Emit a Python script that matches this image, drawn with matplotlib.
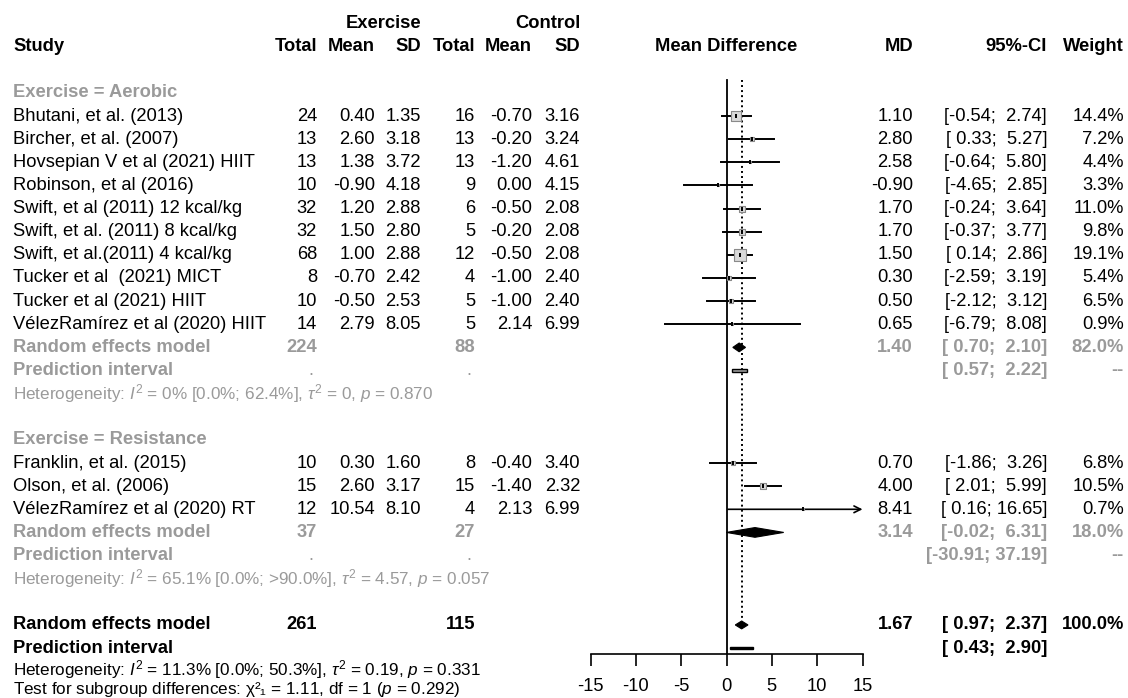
import matplotlib.pyplot as plt
from matplotlib.patches import Polygon, Rectangle

plt.rcParams['font.family'] = ['Liberation Sans', 'DejaVu Sans']
plt.rcParams['axes.unicode_minus'] = False
plt.rcParams['mathtext.fontset'] = 'custom'
plt.rcParams['mathtext.rm'] = 'Liberation Sans'
plt.rcParams['mathtext.it'] = 'Liberation Sans:italic'
plt.rcParams['mathtext.bf'] = 'Liberation Sans:bold'

# ---- data ----
aer_study = ['Bhutani, et al. (2013)', 'Bircher, et al. (2007)', 'Hovsepian V et al (2021) HIIT',
             'Robinson, et al (2016)', 'Swift, et al (2011) 12 kcal/kg', 'Swift, et al. (2011) 8 kcal/kg',
             'Swift, et al.(2011) 4 kcal/kg', 'Tucker et al  (2021) MICT', 'Tucker et al (2021) HIIT',
             'VélezRamírez et al (2020) HIIT']
aer_n_e = [24, 13, 13, 10, 32, 32, 68, 8, 10, 14]
aer_mean_e = [0.40, 2.60, 1.38, -0.90, 1.20, 1.50, 1.00, -0.70, -0.50, 2.79]
aer_sd_e = [1.35, 3.18, 3.72, 4.18, 2.88, 2.80, 2.88, 2.42, 2.53, 8.05]
aer_n_c = [16, 13, 13, 9, 6, 5, 12, 4, 5, 5]
aer_mean_c = [-0.70, -0.20, -1.20, 0.00, -0.50, -0.20, -0.50, -1.00, -1.00, 2.14]
aer_sd_c = [3.16, 3.24, 4.61, 4.15, 2.08, 2.08, 2.08, 2.40, 2.40, 6.99]
aer_md = [1.10, 2.80, 2.58, -0.90, 1.70, 1.70, 1.50, 0.30, 0.50, 0.65]
aer_lo = [-0.54, 0.33, -0.64, -4.65, -0.24, -0.37, 0.14, -2.59, -2.12, -6.79]
aer_hi = [2.74, 5.27, 5.80, 2.85, 3.64, 3.77, 2.86, 3.19, 3.12, 8.08]
aer_w = [14.4, 7.2, 4.4, 3.3, 11.0, 9.8, 19.1, 5.4, 6.5, 0.9]
aer_tot = [224, 88]
aer_re = [1.40, 0.70, 2.10, 82.0]
aer_pi = [0.57, 2.22]
aer_het = r'Heterogeneity: $I^2$ = 0% [0.0%; 62.4%], $\tau^2$ = 0, $p$ = 0.870'

res_study = ['Franklin, et al. (2015)', 'Olson, et al. (2006)', 'VélezRamírez et al (2020) RT']
res_n_e = [10, 15, 12]
res_mean_e = [0.30, 2.60, 10.54]
res_sd_e = [1.60, 3.17, 8.10]
res_n_c = [8, 15, 4]
res_mean_c = [-0.40, -1.40, 2.13]
res_sd_c = [3.40, 2.32, 6.99]
res_md = [0.70, 4.00, 8.41]
res_lo = [-1.86, 2.01, 0.16]
res_hi = [3.26, 5.99, 16.65]
res_w = [6.8, 10.5, 0.7]
res_tot = [37, 27]
res_re = [3.14, -0.02, 6.31, 18.0]
res_pi = [-30.91, 37.19]
res_het = r'Heterogeneity: $I^2$ = 65.1% [0.0%; >90.0%], $\tau^2$ = 4.57, $p$ = 0.057'

all_tot = [261, 115]
all_re = [1.67, 0.97, 2.37, 100.0]
all_pi = [0.43, 2.90]
all_het = r'Heterogeneity: $I^2$ = 11.3% [0.0%; 50.3%], $\tau^2$ = 0.19, $p$ = 0.331'
sub_test = 'Test for subgroup differences: χ²₁ = 1.11, df = 1 ($p$ = 0.292)'

xticks = [-15, -10, -5, 0, 5, 10, 15]

# ---- layout (pixels) ----
W, H = 1128, 698
Y0, DY = 46.7, 23.13          # pixel y of row 0, row spacing
FS = 13.2
FS_HET = 12.3
GREY = '#9a9a9a'
col_tot_e, col_mean_e, col_sd_e = 317, 375, 421
col_tot_c, col_mean_c, col_sd_c = 475, 532, 580
col_md, col_ci, col_w = 913, 1047, 1124
fx0, fx1, fy1 = 590.5, 862.5, 654


def ci_text(lo, hi):
    return '[' + f'{lo:5.2f}' + '; ' + f'{hi:5.2f}' + ']'


fig = plt.figure(figsize=(W / 100, H / 100), dpi=100)
fig.patch.set_facecolor('white')

ax_t = fig.add_axes([0, 0, 1, 1])
ax_t.set_xlim(0, W)
ax_t.set_ylim((H - Y0) / DY, -Y0 / DY)
ax_t.axis('off')

ax_f = fig.add_axes([fx0 / W, 1 - fy1 / H, (fx1 - fx0) / W, fy1 / H])
ax_f.set_xlim(-15, 15)
ax_f.set_ylim((fy1 - Y0) / DY, -Y0 / DY)
ax_f.patch.set_alpha(0)
for s in ['top', 'left', 'right']:
    ax_f.spines[s].set_visible(False)
ax_f.spines['bottom'].set_linewidth(1.2)
ax_f.set_xticks(xticks)
ax_f.set_xticklabels([str(t) for t in xticks])
ax_f.set_yticks([])
ax_f.tick_params(axis='x', direction='out', length=8.6, width=1.2, labelsize=FS, pad=9)


def txt(x, r, s, ha='right', bold=False, color='black', size=FS, va='center'):
    ax_t.text(x, r, s, ha=ha, va=va, fontsize=size,
              fontweight='bold' if bold else 'normal', color=color)


# headers
txt(col_sd_e, -1, 'Exercise', bold=True)
txt(col_sd_c, -1, 'Control', bold=True)
txt(13, 0, 'Study', ha='left', bold=True)
for x, s in [(col_tot_e, 'Total'), (col_mean_e, 'Mean'), (col_sd_e, 'SD'),
             (col_tot_c, 'Total'), (col_mean_c, 'Mean'), (col_sd_c, 'SD'),
             (col_md, 'MD'), (col_ci, '95%-CI'), (col_w, 'Weight')]:
    txt(x, 0, s, bold=True)
txt((fx0 + fx1) / 2, 0, 'Mean Difference', ha='center', bold=True)

# reference lines
ax_f.plot([0, 0], [1.44, (fy1 - Y0) / DY], color='black', lw=1.3)
ax_f.plot([all_re[0]] * 2, [1.44, 24.85], color='black', lw=1.4, linestyle=(0, (1, 1.6)))

wmax = max(aer_w + res_w)


def study_rows(first, names, ne, me, se, nc, mc, sc, md, lo, hi, w):
    for i in range(len(names)):
        r = first + i
        txt(13, r, names[i], ha='left')
        txt(col_tot_e, r, str(ne[i]))
        txt(col_mean_e, r, f'{me[i]:.2f}')
        txt(col_sd_e, r, f'{se[i]:.2f}')
        txt(col_tot_c, r, str(nc[i]))
        txt(col_mean_c, r, f'{mc[i]:.2f}')
        txt(col_sd_c, r, f'{sc[i]:.2f}')
        txt(col_md, r, f'{md[i]:.2f}')
        txt(col_ci, r, ci_text(lo[i], hi[i]))
        txt(col_w, r, f'{w[i]:.1f}%')
        # forest marks
        if hi[i] > 15:
            ax_f.annotate('', xy=(15, r), xytext=(lo[i], r),
                          arrowprops=dict(arrowstyle='->', lw=1.2, color='black',
                                          shrinkA=0, shrinkB=0, mutation_scale=12))
        else:
            ax_f.plot([lo[i], hi[i]], [r, r], color='black', lw=1.4)
        side = max(12 * w[i] / wmax, 1.5) * 0.72
        ax_f.scatter([md[i]], [r], marker='s', s=side ** 2, facecolor='#d9d9d9',
                     edgecolor='#8a8a8a', linewidth=0.8, zorder=3)
        ax_f.scatter([md[i]], [r], marker='|', s=(5 * 0.72) ** 2, color='black',
                     linewidth=1.4, zorder=4)


def diamond(r, est, lo, hi, half=0.19):
    ax_f.add_patch(Polygon([[lo, r], [est, r - half], [hi, r], [est, r + half]],
                           closed=True, facecolor='black', edgecolor='black', lw=0.8, zorder=5))


# Aerobic subgroup
txt(13, 2, 'Exercise = Aerobic', ha='left', bold=True, color=GREY)
study_rows(3, aer_study, aer_n_e, aer_mean_e, aer_sd_e, aer_n_c, aer_mean_c, aer_sd_c,
           aer_md, aer_lo, aer_hi, aer_w)
txt(13, 13, 'Random effects model', ha='left', bold=True, color=GREY)
txt(col_tot_e, 13, str(aer_tot[0]), bold=True, color=GREY)
txt(col_tot_c, 13, str(aer_tot[1]), bold=True, color=GREY)
txt(col_md, 13, f'{aer_re[0]:.2f}', bold=True, color=GREY)
txt(col_ci, 13, ci_text(aer_re[1], aer_re[2]), bold=True, color=GREY)
txt(col_w, 13, f'{aer_re[3]:.1f}%', bold=True, color=GREY)
diamond(13, aer_re[0], aer_re[1], aer_re[2])
txt(13, 14, 'Prediction interval', ha='left', bold=True, color=GREY)
txt(col_tot_e - 4, 14, '.', color=GREY)
txt(col_tot_c - 4, 14, '.', color=GREY)
txt(col_ci, 14, ci_text(aer_pi[0], aer_pi[1]), bold=True, color=GREY)
txt(col_w, 14, '--', bold=True, color=GREY)
ax_f.add_patch(Rectangle((aer_pi[0], 14 - 0.08), aer_pi[1] - aer_pi[0], 0.16,
                         facecolor='#a0a0a0', edgecolor='black', lw=1.0, zorder=5))
txt(13, 15, aer_het, ha='left', color=GREY, size=FS_HET)

# Resistance subgroup
txt(13, 17, 'Exercise = Resistance', ha='left', bold=True, color=GREY)
study_rows(18, res_study, res_n_e, res_mean_e, res_sd_e, res_n_c, res_mean_c, res_sd_c,
           res_md, res_lo, res_hi, res_w)
txt(13, 21, 'Random effects model', ha='left', bold=True, color=GREY)
txt(col_tot_e, 21, str(res_tot[0]), bold=True, color=GREY)
txt(col_tot_c, 21, str(res_tot[1]), bold=True, color=GREY)
txt(col_md, 21, f'{res_re[0]:.2f}', bold=True, color=GREY)
txt(col_ci, 21, ci_text(res_re[1], res_re[2]), bold=True, color=GREY)
txt(col_w, 21, f'{res_re[3]:.1f}%', bold=True, color=GREY)
diamond(21, res_re[0], res_re[1], res_re[2], half=0.21)
txt(13, 22, 'Prediction interval', ha='left', bold=True, color=GREY)
txt(col_tot_e - 4, 22, '.', color=GREY)
txt(col_tot_c - 4, 22, '.', color=GREY)
txt(col_ci, 22, ci_text(res_pi[0], res_pi[1]), bold=True, color=GREY)
txt(col_w, 22, '--', bold=True, color=GREY)
txt(13, 23, res_het, ha='left', color=GREY, size=FS_HET)

# Overall
txt(13, 25, 'Random effects model', ha='left', bold=True)
txt(col_tot_e, 25, str(all_tot[0]), bold=True)
txt(col_tot_c, 25, str(all_tot[1]), bold=True)
txt(col_md, 25, f'{all_re[0]:.2f}', bold=True)
txt(col_ci, 25, ci_text(all_re[1], all_re[2]), bold=True)
txt(col_w, 25, f'{all_re[3]:.1f}%', bold=True)
diamond(25, all_re[0], all_re[1], all_re[2], half=0.17)
txt(13, 26, 'Prediction interval', ha='left', bold=True)
txt(col_ci, 26, ci_text(all_pi[0], all_pi[1]), bold=True)
ax_f.add_patch(Rectangle((all_pi[0], 26 - 0.06), all_pi[1] - all_pi[0], 0.12,
                         facecolor='black', edgecolor='black', lw=1.0, zorder=5))
txt(13, 27.18, all_het, ha='left', size=FS_HET, va='baseline')
txt(13, 28.0, sub_test, ha='left', size=FS_HET, va='baseline')

fig.savefig('out.png', dpi=100)
